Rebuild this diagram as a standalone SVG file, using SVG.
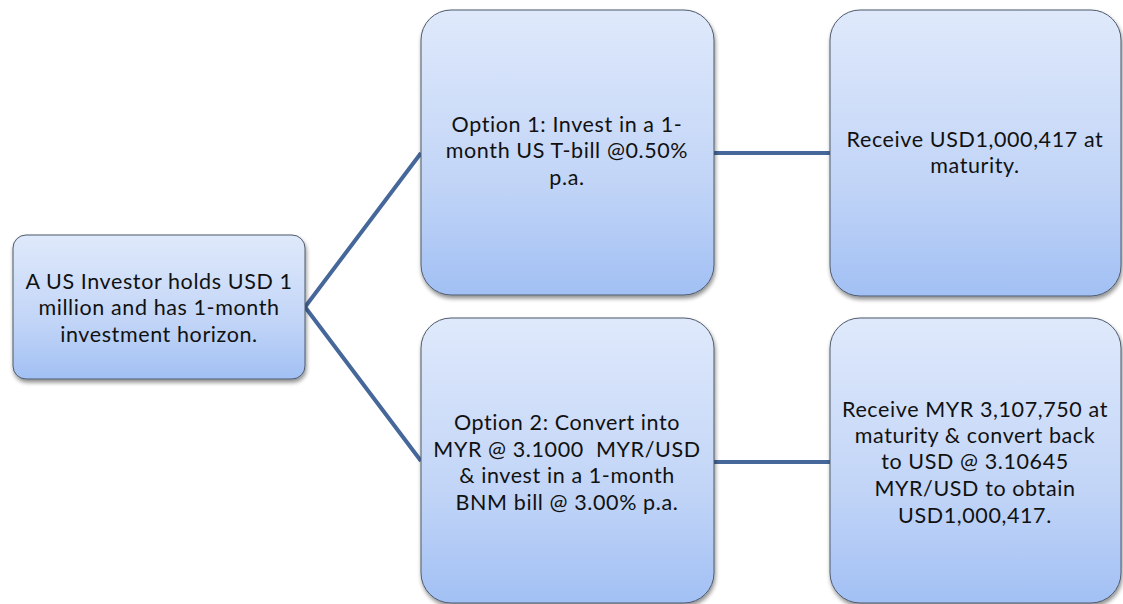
<svg xmlns="http://www.w3.org/2000/svg" width="1123" height="604" viewBox="0 0 1123 604">
<defs>
<linearGradient id="g" x1="0" y1="0" x2="0" y2="1">
<stop offset="0" stop-color="#dfe9fb"/>
<stop offset="0.6" stop-color="#c2d5f7"/>
<stop offset="1" stop-color="#a2c0f4"/>
</linearGradient>
<filter id="sh" x="-10%" y="-10%" width="125%" height="125%">
<feGaussianBlur in="SourceAlpha" stdDeviation="2"/>
<feOffset dx="1" dy="3" result="b"/>
<feComponentTransfer><feFuncA type="linear" slope="0.45"/></feComponentTransfer>
<feMerge><feMergeNode/><feMergeNode in="SourceGraphic"/></feMerge>
</filter>
</defs>
<style>
.box{fill:url(#g);stroke:#4d5a6b;stroke-width:1;filter:url(#sh)}
.t{font-family:Lato,"Liberation Sans",sans-serif;font-size:21.5px;letter-spacing:0.6px;fill:#111;text-anchor:middle}
.c{stroke:#46679a;stroke-width:4;fill:none}
</style>
<rect width="1123" height="604" fill="#fff"/>
<g id="connectors">
<polyline class="c" points="421,153 305,307 421,461"/>
<line class="c" x1="714" y1="153" x2="830" y2="153"/>
<line class="c" x1="714" y1="462" x2="830" y2="462"/>
</g>
<g id="n1">
<rect class="box" x="13" y="235" width="292" height="144" rx="13"/>
<text class="t" x="159" y="289">A US Investor holds USD 1</text>
<text class="t" x="159" y="315">million and has 1-month</text>
<text class="t" x="159" y="342">investment horizon.</text>
</g>
<g id="n2">
<rect class="box" x="421" y="10" width="293" height="285" rx="30"/>
<text class="t" x="567" y="132">Option 1: Invest in a 1-</text>
<text class="t" x="567" y="158">month US T-bill @0.50%</text>
<text class="t" x="567" y="185">p.a.</text>
</g>
<g id="n3">
<rect class="box" x="830" y="10" width="291" height="286" rx="30"/>
<text class="t" x="975" y="147">Receive USD1,000,417 at</text>
<text class="t" x="975" y="173">maturity.</text>
</g>
<g id="n4">
<rect class="box" x="421" y="318" width="293" height="285" rx="30"/>
<text class="t" x="567" y="430">Option 2: Convert into</text>
<text class="t" x="567" y="457">MYR @ 3.1000&#160; MYR/USD</text>
<text class="t" x="567" y="483">&amp; invest in a 1-month</text>
<text class="t" x="567" y="510">BNM bill @ 3.00% p.a.</text>
</g>
<g id="n5">
<rect class="box" x="830" y="318" width="291" height="285" rx="30"/>
<text class="t" x="975" y="417">Receive MYR 3,107,750 at</text>
<text class="t" x="975" y="443">maturity &amp; convert back</text>
<text class="t" x="975" y="469">to USD @ 3.10645</text>
<text class="t" x="975" y="496">MYR/USD to obtain</text>
<text class="t" x="975" y="523">USD1,000,417.</text>
</g>
</svg>
